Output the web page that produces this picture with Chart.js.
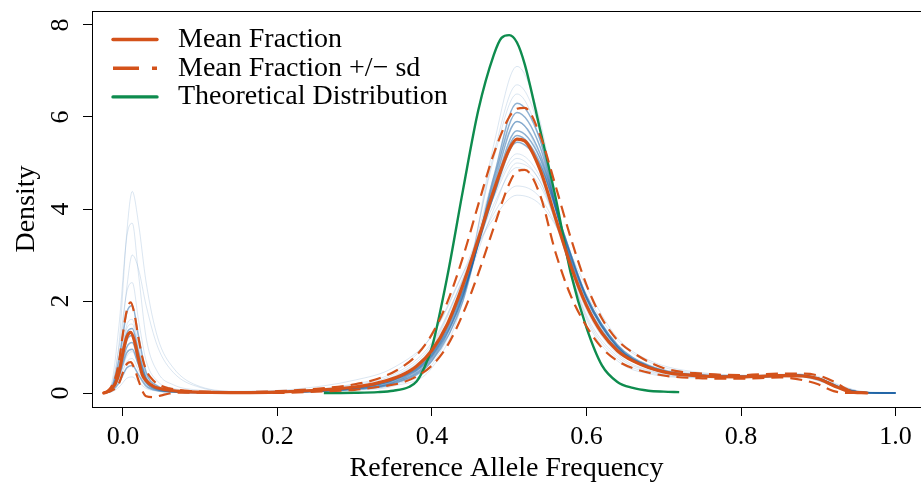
<!DOCTYPE html>
<html><head><meta charset="utf-8">
<script src="https://cdn.jsdelivr.net/npm/chart.js@4/dist/chart.umd.min.js"></script>
<style>html,body{margin:0;padding:0;background:#fff;overflow:hidden}#wrap{width:921px;height:484px}</style>
</head><body><div id="wrap"><canvas id="c" width="921" height="484"></canvas></div>
<script>
// ---------- data ----------
const xTickValues = [0, 0.2, 0.4, 0.6, 0.8, 1.0];
const yTickValues = [0, 2, 4, 6, 8];

const meanX = [-0.025,-0.02,-0.015,-0.01,-0.005,0,0.005,0.01,0.015,0.02,0.025,0.03,0.04,0.05,0.06,0.08,0.1,0.15,0.2,0.25,0.3,0.33,0.36,0.38,0.4,0.42,0.44,0.46,0.48,0.5,0.51,0.52,0.54,0.56,0.58,0.6,0.62,0.64,0.66,0.7,0.75,0.8,0.85,0.88,0.9,0.92,0.94,0.963];
const meanY = [0,0.03,0.1,0.2,0.45,0.88,1.22,1.32,1.12,0.74,0.4,0.27,0.14,0.09,0.06,0.03,0.02,0.01,0.02,0.06,0.13,0.22,0.38,0.58,0.93,1.5,2.35,3.35,4.4,5.3,5.52,5.48,4.85,3.8,2.75,1.9,1.3,0.92,0.7,0.46,0.37,0.35,0.38,0.37,0.31,0.16,0.03,0];
const plusSdY = [0,0.04,0.14,0.32,0.7,1.3,1.8,1.97,1.7,1.2,0.78,0.5,0.26,0.15,0.1,0.05,0.03,0.02,0.04,0.09,0.19,0.31,0.55,0.82,1.28,1.98,2.95,4.1,5.2,6.0,6.18,6.2,5.6,4.5,3.35,2.35,1.62,1.15,0.88,0.54,0.42,0.39,0.42,0.42,0.38,0.25,0.06,0];
const minusSdY = [0,0.02,0.05,0.1,0.22,0.45,0.63,0.67,0.52,0.28,0.05,-0.07,-0.09,-0.05,-0.01,0.01,0.01,0,0,0.03,0.07,0.13,0.22,0.36,0.6,1.03,1.72,2.6,3.6,4.55,4.82,4.85,4.3,3.05,2.1,1.45,0.98,0.7,0.54,0.38,0.32,0.31,0.34,0.28,0.19,0.04,0,0];

const theoryX = [0.26,0.3,0.33,0.35,0.37,0.38,0.39,0.4,0.42,0.44,0.46,0.48,0.49,0.5,0.51,0.52,0.54,0.56,0.58,0.6,0.62,0.64,0.66,0.68,0.7,0.72];
const theoryY = [0,0.005,0.02,0.05,0.13,0.25,0.55,1.0,2.55,4.4,6.15,7.35,7.72,7.78,7.62,7.15,5.72,4.25,2.58,1.42,0.6,0.24,0.11,0.05,0.03,0.02];

const sampleX = [-0.025,-0.015,-0.005,0.005,0.012,0.02,0.03,0.045,0.065,0.1,0.15,0.22,0.3,0.35,0.4,0.44,0.48,0.51,0.54,0.57,0.6,0.64,0.68,0.75,0.82,0.87,0.9,0.93,0.96,1.0];
const sample01 = [0,0.13,1.1,3.5,4.38,3.7,2.4,1.2,0.55,0.14,0.04,0.04,0.12,0.28,0.85,2.2,4.0,5.0,4.6,3.2,2.0,1.0,0.6,0.4,0.36,0.38,0.3,0.1,0.01,0];
const sample02 = [0,0.2,1.5,3.4,3.69,2.6,1.2,0.45,0.18,0.06,0.02,0.03,0.1,0.24,0.78,2.3,4.7,5.9,5.1,3.2,1.8,0.85,0.5,0.36,0.35,0.39,0.32,0.11,0.01,0];
const sample03 = [0,0.08,0.7,2.3,3.0,2.7,1.9,1.0,0.45,0.12,0.03,0.05,0.18,0.4,1.1,2.45,3.9,4.5,4.25,3.3,2.15,1.15,0.68,0.42,0.38,0.4,0.33,0.14,0.02,0];
const sample04 = [0,0.15,1.0,2.2,2.4,1.6,0.7,0.25,0.1,0.03,0.01,0.02,0.08,0.2,0.7,2.2,5.1,6.5,5.5,3.2,1.7,0.8,0.48,0.35,0.34,0.37,0.28,0.08,0,0];
const sample05 = [0,0.1,0.75,1.75,1.9,1.25,0.45,0.15,0.06,0.02,0.01,0.03,0.12,0.28,0.85,2.2,4.3,5.6,5.0,3.45,2.05,1.0,0.58,0.38,0.36,0.39,0.32,0.11,0.01,0];
const sample06 = [0,0.09,0.6,1.4,1.5,0.95,0.35,0.12,0.05,0.02,0.01,0.02,0.06,0.15,0.55,2.0,5.4,7.1,5.9,3.3,1.6,0.7,0.42,0.33,0.33,0.36,0.27,0.07,0,0];
const sample07 = [0,0.08,0.5,1.2,1.3,0.85,0.3,0.1,0.04,0.02,0.01,0.03,0.16,0.36,1.05,2.5,4.3,5.2,4.7,3.3,2.05,1.0,0.6,0.39,0.37,0.4,0.33,0.12,0.01,0];
const sample08 = [0,0.07,0.42,1.0,1.1,0.7,0.25,0.08,0.03,0.01,0.01,0.02,0.09,0.22,0.75,2.1,4.6,6.1,5.35,3.4,1.95,0.95,0.55,0.37,0.35,0.38,0.3,0.1,0.01,0];
const sample09 = [0,0.05,0.33,0.8,0.9,0.6,0.22,0.08,0.03,0.01,0.01,0.04,0.2,0.45,1.25,2.6,3.8,4.3,4.1,3.35,2.3,1.2,0.72,0.44,0.39,0.42,0.36,0.16,0.02,0];
const sample10 = [0,0.04,0.22,0.55,0.6,0.4,0.15,0.05,0.02,0.01,0.01,0.03,0.11,0.27,0.82,2.15,4.4,5.7,5.1,3.5,2.1,1.02,0.58,0.38,0.36,0.39,0.32,0.11,0.01,0];
const sample11 = [0,0.02,0.13,0.32,0.35,0.24,0.1,0.04,0.02,0.01,0.01,0.02,0.07,0.18,0.62,2.1,5.2,6.7,5.7,3.25,1.65,0.75,0.45,0.34,0.34,0.36,0.27,0.08,0,0];
const sample12 = [0,0.08,0.48,1.15,1.25,0.8,0.3,0.1,0.05,0.02,0.01,0.02,0.12,0.29,0.88,2.25,4.3,5.45,4.95,3.5,2.1,1.05,0.6,0.38,0.36,0.39,0.32,0.11,0.01,0];
const sample13 = [0,0.1,0.62,1.48,1.6,1.05,0.4,0.14,0.06,0.02,0.01,0.03,0.15,0.34,1.0,2.45,4.1,4.9,4.5,3.3,2.05,1.0,0.6,0.4,0.37,0.4,0.33,0.12,0.01,0];
const sample14 = [0,0.06,0.36,0.88,0.95,0.62,0.22,0.07,0.03,0.01,0.01,0.02,0.08,0.2,0.7,2.0,4.7,6.3,5.5,3.4,1.9,0.95,0.55,0.37,0.35,0.38,0.3,0.1,0.01,0];
const sample15 = [0,0.09,0.55,1.3,1.4,0.9,0.33,0.11,0.05,0.02,0.01,0.02,0.1,0.24,0.8,2.1,4.5,5.9,5.2,3.45,2.05,1.0,0.57,0.37,0.36,0.39,0.31,0.1,0.01,0];
const sample16 = [0,0.04,0.28,0.68,0.75,0.5,0.18,0.06,0.03,0.02,0.03,0.08,0.28,0.55,1.25,2.6,4.25,5.1,4.6,3.3,2.1,1.05,0.62,0.4,0.38,0.41,0.34,0.14,0.03,0.01];
const faintSamples = [sample01, sample02, sample03, sample04, sample06, sample07, sample09, sample11, sample13, sample16];
const bandSamples = [sample05, sample08, sample10, sample12, sample14, sample15];

// ---------- styling ----------
const FONT = '"Liberation Serif", "Times New Roman", serif';
const ORANGE = '#d4521a';
const GREEN = '#0e8c4e';
const pts = (xs, ys) => xs.map((x, i) => ({x: x, y: ys[i]}));

const datasets = [
  {label: 'Mean Fraction', data: pts(meanX, meanY), borderColor: ORANGE, borderWidth: 3.2, order: 0, borderCapStyle: 'round'},
  {label: 'Mean Fraction +/\u2212 sd', data: pts(meanX, plusSdY), borderColor: ORANGE, borderWidth: 2.2, borderDash: [12, 7], order: 1},
  {label: 'Mean Fraction \u2212 sd', data: pts(meanX, minusSdY), borderColor: ORANGE, borderWidth: 2.2, borderDash: [12, 7], order: 1},
  {label: 'Theoretical Distribution', data: pts(theoryX, theoryY), borderColor: GREEN, borderWidth: 2.4, order: 2}
];
faintSamples.forEach((s, i) => datasets.push({label: 'sample f' + i, data: pts(sampleX, s), borderColor: 'rgba(90,140,190,0.22)', borderWidth: 1, order: 10}));
bandSamples.forEach((s, i) => datasets.push({label: 'sample b' + i, data: pts(sampleX, s), borderColor: 'rgba(30,100,165,0.5)', borderWidth: 1.5, order: 9}));

const legendItems = [
  {text: 'Mean Fraction', color: ORANGE, dash: []},
  {text: 'Mean Fraction +/\u2212 sd', color: ORANGE, dash: [26, 13]},
  {text: 'Theoretical Distribution', color: GREEN, dash: []}
];

const legendPlugin = {
  id: 'refLegend',
  afterDraw(chart) {
    const ctx = chart.ctx, a = chart.chartArea;
    ctx.save();
    legendItems.forEach((it, i) => {
      const y = a.top + 28.5 + i * 28.7;
      ctx.beginPath();
      ctx.setLineDash(it.dash);
      ctx.lineCap = it.dash.length ? 'butt' : 'round';
      ctx.strokeStyle = it.color;
      ctx.lineWidth = 3.4;
      ctx.moveTo(a.left + 21, y);
      ctx.lineTo(a.left + 65, y);
      ctx.stroke();
      ctx.setLineDash([]);
      ctx.fillStyle = '#000';
      ctx.font = '28px ' + FONT;
      ctx.textBaseline = 'middle';
      ctx.textAlign = 'left';
      ctx.fillText(it.text, a.left + 86, y);
    });
    ctx.restore();
  }
};

const XMIN = -0.0401, XMAX = 1.033, YMIN = -0.304, YMAX = 8.304;

new Chart(document.getElementById('c'), {
  type: 'line',
  data: {datasets: datasets},
  plugins: [legendPlugin],
  options: {
    responsive: false, animation: false, devicePixelRatio: 1,
    layout: {padding: 0},
    plugins: {legend: {display: false}, tooltip: {enabled: false}},
    elements: {point: {radius: 0}, line: {cubicInterpolationMode: 'monotone', fill: false}},
    scales: {
      x: {
        type: 'linear', position: 'bottom', min: XMIN, max: XMAX,
        afterBuildTicks: s => { s.ticks = xTickValues.map(v => ({value: v})); },
        afterFit: s => { s.height = 77; s.paddingLeft = 0; s.paddingRight = 0; },
        ticks: {callback: v => v.toFixed(1), font: {family: FONT, size: 26}, color: '#000', padding: 6, minRotation: 0, maxRotation: 0, autoSkip: false},
        grid: {display: true, drawOnChartArea: false, drawTicks: true, tickLength: 9, color: '#000', tickColor: '#000'},
        border: {display: true, color: '#000', width: 1},
        title: {display: true, text: 'Reference Allele Frequency', font: {family: FONT, size: 28, lineHeight: 1.0}, color: '#000', padding: {top: 0, bottom: 1}}
      },
      xTop: {
        type: 'linear', position: 'top', min: XMIN, max: XMAX,
        afterFit: s => { s.height = 11; s.paddingLeft = 0; s.paddingRight = 0; },
        ticks: {display: false},
        grid: {display: false, drawTicks: false},
        border: {display: true, color: '#000', width: 1}
      },
      y: {
        type: 'linear', position: 'left', min: YMIN, max: YMAX,
        afterBuildTicks: s => { s.ticks = yTickValues.map(v => ({value: v})); },
        afterFit: s => { s.width = 92; s.paddingTop = 0; s.paddingBottom = 0; },
        ticks: {callback: v => String(v), font: {family: FONT, size: 26}, color: '#000', padding: 15, minRotation: 90, maxRotation: 90, crossAlign: 'center', autoSkip: false},
        grid: {display: true, drawOnChartArea: false, drawTicks: true, tickLength: 9, color: '#000', tickColor: '#000'},
        border: {display: true, color: '#000', width: 1},
        title: {display: true, text: 'Density', font: {family: FONT, size: 28}, color: '#000', padding: {top: 10, bottom: 0}}
      }
    }
  }
});
</script>
</body></html>
